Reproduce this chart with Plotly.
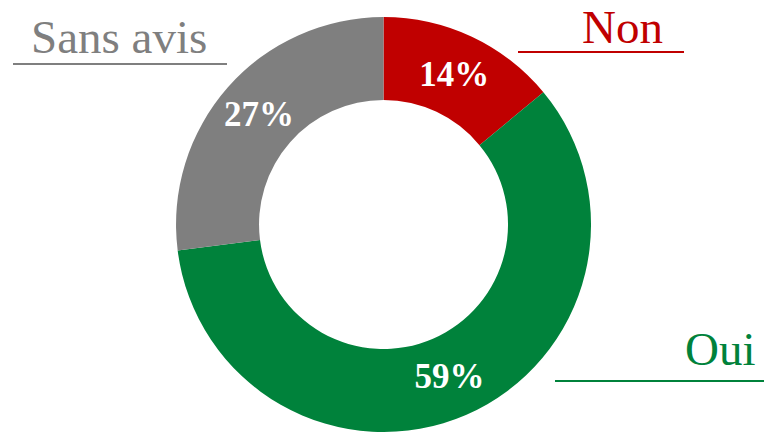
import plotly.graph_objects as go

labels = ["Non", "Oui", "Sans avis"]
values = [14, 59, 27]
colors = ["#C00000", "#00823B", "#7F7F7F"]

W, H = 764, 432

fig = go.Figure(go.Pie(
    labels=labels,
    values=values,
    hole=0.6,
    sort=False,
    direction="clockwise",
    rotation=0,
    marker=dict(colors=colors, line=dict(width=0)),
    texttemplate="%{value}%",
    textposition="inside",
    insidetextorientation="horizontal",
    textfont=dict(family="Liberation Serif", size=35, color="white", weight="bold"),
    domain=dict(x=[0.2, 0.804], y=[0.0, 0.9606]),
    showlegend=False,
    hoverinfo="label+percent",
))

def px(x):
    return x / W

def py(y):
    return 1 - y / H

# label annotations: (text, color, center x, middle y, underline x0, x1, y)
ann = [
    ("Sans avis", colors[2], 119, 37, 13, 227, 64),
    ("Non", colors[0], 622, 27, 518, 684, 52),
    ("Oui", colors[1], 720, 349, 555, 764, 381),
]
for text, col, cx, cy, x0, x1, uy in ann:
    fig.add_annotation(text=text, x=px(cx), y=py(cy), xref="paper", yref="paper",
                       xanchor="center", yanchor="middle", showarrow=False,
                       font=dict(family="Liberation Serif", size=47, color=col))
    fig.add_shape(type="line", xref="paper", yref="paper",
                  x0=px(x0), x1=px(x1), y0=py(uy), y1=py(uy),
                  line=dict(color=col, width=2))

fig.update_layout(
    width=W, height=H,
    margin=dict(l=0, r=0, t=0, b=0),
    paper_bgcolor="white",
    plot_bgcolor="white",
)

fig.write_html(
    "out.html",
    config={"displayModeBar": False},
    post_script="document.body.style.margin='0';document.body.style.overflow='hidden';",
)
